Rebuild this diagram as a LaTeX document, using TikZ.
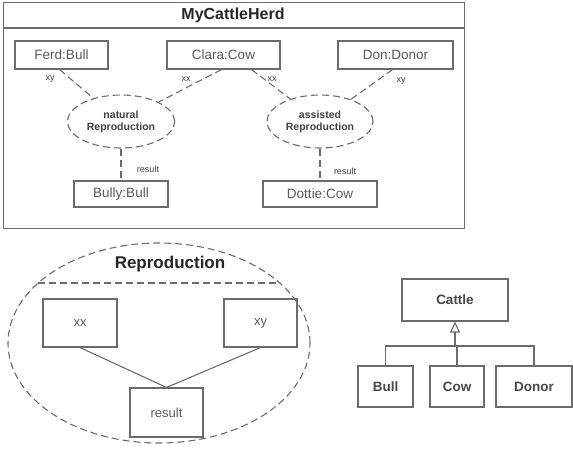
\documentclass[tikz,border=0pt]{standalone}
\usepackage{fontspec}
\setmainfont{Liberation Sans}
\usetikzlibrary{arrows.meta,shapes.geometric,calc}
\begin{document}
\begin{tikzpicture}[x=1pt,y=-1pt,
  ln/.style={draw=black!58,line width=1.1pt},
  dsh/.style={ln,dash pattern=on 7pt off 4pt},
  obj/.style={ln,rectangle,inner sep=0pt,font=\fontsize{13.5}{15}\selectfont,text=black!65},
  uc/.style={dsh,ellipse,inner sep=0pt,align=center,font=\bfseries\fontsize{10.5}{12}\selectfont,text=black!75},
  lbl/.style={font=\fontsize{9}{10}\selectfont,text=black!75,inner sep=0pt},
  cls/.style={ln,rectangle,inner sep=0pt,font=\bfseries\fontsize{13.5}{15}\selectfont,text=black!72}]
\useasboundingbox (0,0) rectangle (573,450);
% MyCattleHerd frame
\node[ln,rectangle,minimum width=461pt,minimum height=226pt,anchor=north west,inner sep=0pt] (herd) at (3,2) {};
\coordinate (sepL) at (3,28);
\coordinate (sepR) at (464,28);
\draw[ln] (sepL) -- (sepR);
\node[font=\bfseries\fontsize{16}{18}\selectfont,text=black!85] (herdt) at (233,15.5) {MyCattleHerd};
% objects
\node[obj,minimum width=93pt,minimum height=28pt] (ferd) at (61.5,55) {Ferd:Bull};
\node[obj,minimum width=113pt,minimum height=28pt] (clara) at (223.5,55) {Clara:Cow};
\node[obj,minimum width=115pt,minimum height=28pt] (don) at (395.5,55) {Don:Donor};
\node[uc,minimum width=107pt,minimum height=53pt] (nat) at (121,121.5) {natural\\Reproduction};
\node[uc,minimum width=106pt,minimum height=53pt] (ass) at (320,121.5) {assisted\\Reproduction};
\node[obj,minimum width=94pt,minimum height=26pt] (bully) at (121,194) {Bully:Bull};
\node[obj,minimum width=114pt,minimum height=26pt] (dottie) at (320,194) {Dottie:Cow};
% connectors
\draw[dsh] ([xshift=-2pt]ferd.south) -- (nat);
\draw[dsh] ([xshift=-2pt]clara.south) -- (nat);
\draw[dsh] ([xshift=28pt]clara.south) -- (ass);
\draw[dsh] ([xshift=-3pt]don.south) -- (ass);
\draw[dsh] (nat.south) -- (bully.north);
\draw[dsh] (ass.south) -- (dottie.north);
\node[lbl] (l1) at (50,79) {xy};
\node[lbl] (l2) at (186,79) {xx};
\node[lbl] (l3) at (272,79) {xx};
\node[lbl] (l4) at (401,81) {xy};
\node[lbl] (l5) at (148,169) {result};
\node[lbl] (l6) at (345,171) {result};
% Reproduction collaboration
\node[dsh,ellipse,minimum width=302pt,minimum height=200pt,inner sep=0pt] (rep) at (159,343) {};
\coordinate (rl) at ($(rep.center)+({-151*sqrt(1-(60/100)^2)},-60)$);
\coordinate (rr) at ($(rep.center)+({151*sqrt(1-(60/100)^2)},-60)$);
\draw[dsh] (rl) -- (rr);
\node[font=\bfseries\fontsize{17}{19}\selectfont,text=black!85] (rept) at (170,264) {Reproduction};
\node[obj,minimum width=74pt,minimum height=48pt,font=\fontsize{13}{14}\selectfont] (xx) at (80,323) {xx};
\node[obj,minimum width=73pt,minimum height=48pt,font=\fontsize{13}{14}\selectfont] (xy) at (260.5,323) {xy};
\node[obj,minimum width=73pt,minimum height=49pt,font=\fontsize{13}{14}\selectfont] (res) at (166.5,412.5) {result};
\draw[ln] (xx.south) -- (res.north);
\draw[ln] (xy.south) -- (res.north);
% Cattle hierarchy
\node[cls,minimum width=106pt,minimum height=42pt] (cattle) at (455,300) {Cattle};
\node[cls,minimum width=55pt,minimum height=41pt] (bull) at (385.5,386.5) {Bull};
\node[cls,minimum width=54pt,minimum height=41pt] (cow) at (457,386.5) {Cow};
\node[cls,minimum width=76pt,minimum height=41pt] (donor) at (534,386.5) {Donor};
\coordinate (bar) at (455,346);
\draw[ln] (bull.north) |- (bar) -| (donor.north);
\draw[ln] (cow.north) |- (bar);
\draw[ln,-{Triangle[open,length=11pt,width=10pt]}] (bar) -- (cattle.south);
\end{tikzpicture}
\end{document}
